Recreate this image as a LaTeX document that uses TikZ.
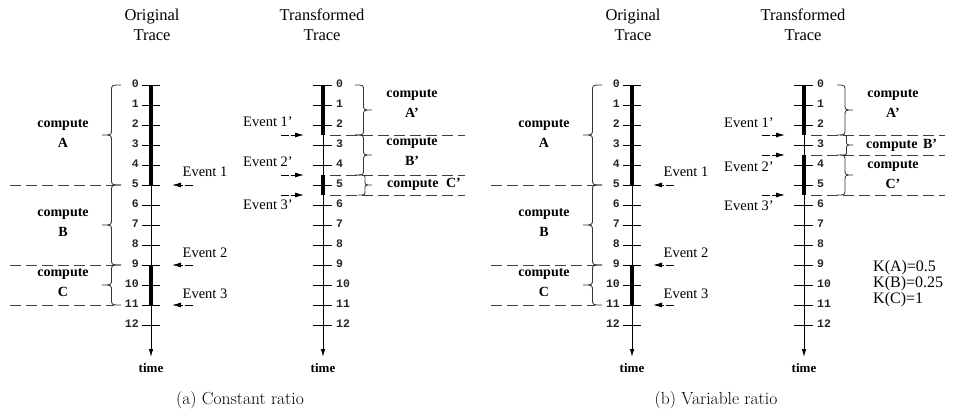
\documentclass[tikz,border=0pt]{standalone}
\usepackage{fontspec}
\newfontfamily\lblfont{Liberation Serif}
\newfontfamily\numfont{Liberation Mono}
\usetikzlibrary{arrows.meta}
\tikzset{
 axisline/.style={line width=0.9pt, -{Latex[length=8pt,width=4.5pt]}},
 thickseg/.style={line width=4.5pt},
 tickmark/.style={line width=0.7pt},
 numl/.style={font=\numfont\bfseries\fontsize{11.5}{12}\selectfont, inner sep=0pt, black!85},
 sepline/.style={line width=0.75pt, black!75, dash pattern=on 11pt off 5pt},
 evarrow/.style={line width=0.9pt, dash pattern=on 8pt off 2pt, -{Latex[length=9pt,width=5pt]}},
 evlbl/.style={font=\lblfont\fontsize{14.5}{17}\selectfont, inner sep=0pt},
 cmplbl/.style={font=\lblfont\bfseries\fontsize{14}{20}\selectfont, align=center, inner sep=0pt},
 titlelbl/.style={font=\lblfont\fontsize{16.5}{20}\selectfont, align=center, inner sep=0pt},
 timelbl/.style={font=\lblfont\bfseries\fontsize{13}{16}\selectfont, inner sep=0pt},
 klbl/.style={font=\lblfont\fontsize{16}{16}\selectfont, align=left, inner sep=0pt},
 caplbl/.style={font=\fontsize{17.5}{20}\selectfont, inner sep=0pt},
 bracestyle/.style={line width=0.8pt, black!80},
}
% #1 x of ends, #2 top y, #3 bottom y, #4 signed depth, #5 curl
\newcommand\cbrace[5]{%
 \pgfmathsetmacro\bxm{#1+0.5*(#4)}%
 \pgfmathsetmacro\bxt{#1+(#4)}%
 \pgfmathsetmacro\bym{0.5*(#2+#3)}%
 \draw[bracestyle] (#1,#2) .. controls (\bxm,#2) .. (\bxm,#2+#5) -- (\bxm,\bym-#5) .. controls (\bxm,\bym) .. (\bxt,\bym) .. controls (\bxm,\bym) .. (\bxm,\bym+#5) -- (\bxm,#3-#5) .. controls (\bxm,#3) .. (#1,#3);
}
% original trace panel, #1 = name prefix
\newcommand\origpanel[1]{%
 \node[titlelbl] (#1title) at (152,25) {Original\\Trace};
 \coordinate (#1top) at (151,85);
 \coordinate (#1end) at (151,357);
 \foreach \i in {0,...,12} {
  \draw[tickmark] (142,85+20*\i) -- (160,85+20*\i);
  \node[numl,anchor=east] (#1n\i) at (139,84+20*\i) {\i};
 }
 \draw[axisline] (#1top) -- (#1end);
 \node[timelbl] (#1time) at (151,368) {time};
 \draw[thickseg] (151,85) -- (151,185);
 \draw[thickseg] (151,265) -- (151,305);
 \draw[sepline] (10,185) -- (114,185);
 \draw[sepline] (10,265) -- (114,265);
 \draw[sepline] (10,305) -- (114,305);
 \cbrace{121}{85}{185}{-19}{6}
 \cbrace{121}{185}{265}{-19}{6}
 \cbrace{121}{265}{305}{-19}{6}
 \node[cmplbl] (#1cA) at (63,134) {compute\\A};
 \node[cmplbl] (#1cB) at (63,223) {compute\\B};
 \node[cmplbl] (#1cC) at (63,283) {compute\\C};
 \node[evlbl] (#1e1) at (205,172) {Event 1};
 \node[evlbl] (#1e2) at (205,253) {Event 2};
 \node[evlbl] (#1e3) at (205,294) {Event 3};
 \coordinate (#1e1s) at (193,185); \coordinate (#1e1t) at (172,185);
 \coordinate (#1e2s) at (193,265); \coordinate (#1e2t) at (172,265);
 \coordinate (#1e3s) at (193,305); \coordinate (#1e3t) at (172,305);
 \draw[evarrow] (#1e1s) -- (#1e1t);
 \draw[evarrow] (#1e2s) -- (#1e2t);
 \draw[evarrow] (#1e3s) -- (#1e3t);
}
\begin{document}
\begin{tikzpicture}[x=1pt,y=-1pt]
\path[fill=white,use as bounding box] (0,0) rectangle (953,415);

% ===== (a) original =====
\origpanel{ao}

% ===== (a) transformed =====
\node[titlelbl] (attitle) at (322,25) {Transformed\\Trace};
\coordinate (attop) at (323,85);
\coordinate (atend) at (323,357);
\foreach \i in {0,...,12} {
 \draw[tickmark] (313,85+20*\i) -- (332,85+20*\i);
 \node[numl,anchor=west] (atn\i) at (336,84+20*\i) {\i};
}
\draw[axisline] (attop) -- (atend);
\node[timelbl] (attime) at (323,368) {time};
\draw[thickseg] (323,85) -- (323,135);
\draw[thickseg] (323,175) -- (323,195);
\draw[sepline] (330,135) -- (465,135);
\draw[sepline] (330,175) -- (465,175);
\draw[sepline] (330,195) -- (465,195);
\cbrace{355}{85}{135}{17}{6}
\cbrace{355}{135}{175}{17}{6}
\cbrace{358}{175}{195}{14}{4}
\node[cmplbl] (atcA) at (412,104) {compute\\A’};
\node[cmplbl] (atcB) at (412,152) {compute\\B’};
\node[cmplbl,anchor=west] (atcC) at (387,184) {compute\hspace{4pt} C’};
\node[evlbl] (ate1) at (268,122) {Event 1’};
\node[evlbl] (ate2) at (268,162) {Event 2’};
\node[evlbl] (ate3) at (268,205) {Event 3’};
\coordinate (ate1s) at (281,135); \coordinate (ate1t) at (304,135);
\coordinate (ate2s) at (281,175); \coordinate (ate2t) at (304,175);
\coordinate (ate3s) at (281,195); \coordinate (ate3t) at (304,195);
\draw[evarrow] (ate1s) -- (ate1t);
\draw[evarrow] (ate2s) -- (ate2t);
\draw[evarrow] (ate3s) -- (ate3t);
\node[caplbl] (capa) at (240,400) {(a) Constant ratio};

% ===== (b) original =====
\begin{scope}[xshift=481pt]
\origpanel{bo}
\end{scope}

% ===== (b) transformed =====
\node[titlelbl] (bttitle) at (803,25) {Transformed\\Trace};
\coordinate (bttop) at (804,85);
\coordinate (btend) at (804,357);
\foreach \i in {0,...,12} {
 \draw[tickmark] (794,85+20*\i) -- (813,85+20*\i);
 \node[numl,anchor=west] (btn\i) at (817,84+20*\i) {\i};
}
\draw[axisline] (bttop) -- (btend);
\node[timelbl] (bttime) at (804,368) {time};
\draw[thickseg] (804,85) -- (804,135);
\draw[thickseg] (804,155) -- (804,195);
\draw[sepline] (811,135) -- (945,135);
\draw[sepline] (811,155) -- (945,155);
\draw[sepline] (811,195) -- (945,195);
\cbrace{837}{85}{135}{16}{6}
\cbrace{840}{135}{155}{13}{4}
\cbrace{837}{155}{195}{16}{6}
\node[cmplbl] (btcA) at (893,104) {compute\\A’};
\node[cmplbl,anchor=west] (btcB) at (866,145) {compute\hspace{2pt} B’};
\node[cmplbl] (btcC) at (893,175) {compute\\C’};
\node[evlbl] (bte1) at (749,123) {Event 1’};
\node[evlbl] (bte2) at (749,167) {Event 2’};
\node[evlbl] (bte3) at (749,206) {Event 3’};
\coordinate (bte1s) at (762,135); \coordinate (bte1t) at (785,135);
\coordinate (bte2s) at (762,155); \coordinate (bte2t) at (785,155);
\coordinate (bte3s) at (762,195); \coordinate (bte3t) at (785,195);
\draw[evarrow] (bte1s) -- (bte1t);
\draw[evarrow] (bte2s) -- (bte2t);
\draw[evarrow] (bte3s) -- (bte3t);
\node[klbl,anchor=west] (kvals) at (873,284) {K(A)=0.5\\K(B)=0.25\\K(C)=1};
\node[caplbl] (capb) at (716,400) {(b) Variable ratio};
\end{tikzpicture}
\end{document}
